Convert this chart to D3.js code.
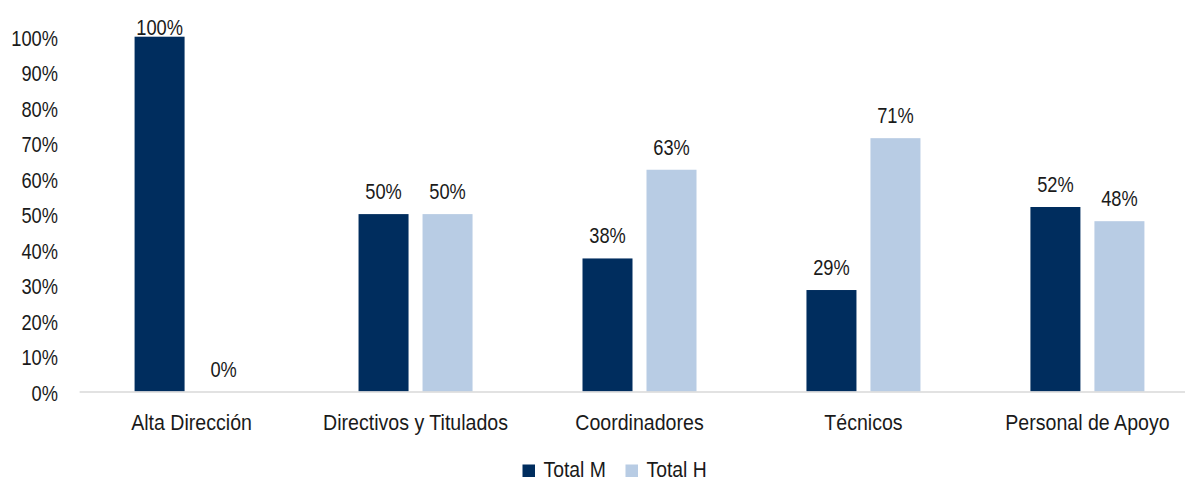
<!DOCTYPE html>
<html>
<head>
<meta charset="utf-8">
<script src="https://cdn.jsdelivr.net/npm/d3@7"></script>
<style>
  html, body { margin: 0; padding: 0; background: #ffffff; }
  svg { display: block; }
  text { font-family: "Liberation Sans", Arial, sans-serif; fill: #1a1a1a; }
</style>
</head>
<body>
<svg id="chart" width="1185" height="481"></svg>
<script>
const categories = ["Alta Dirección", "Directivos y Titulados", "Coordinadores", "Técnicos", "Personal de Apoyo"];
const seriesNames = ["Total M", "Total H"];
const totalM = [1.00, 0.50, 0.375, 0.286, 0.52];
const totalH = [0.00, 0.50, 0.625, 0.714, 0.48];
const yTicks = [0, 0.1, 0.2, 0.3, 0.4, 0.5, 0.6, 0.7, 0.8, 0.9, 1.0];
const colors = ["#002D5E", "#B8CCE4"];

(function () {
const FS = 22, SX_NUM = 0.83, SX_WORD = 0.89;
const svg = d3.select("#chart");
const plotLeft = 79.6, plotRight = 1199.4, plotTop = 36.7, plotBottom = 391.5;

const x0 = d3.scaleBand().domain(categories).range([plotLeft, plotRight]).paddingInner(0).paddingOuter(0);
const groupW = 114;
const x1 = d3.scaleBand().domain(seriesNames)
  .range([(x0.bandwidth() - groupW) / 2, (x0.bandwidth() + groupW) / 2])
  .paddingInner(0.21875).paddingOuter(0);
const y = d3.scaleLinear().domain([0, 1]).range([plotBottom, plotTop]);
const pct = d3.format(".0%");

function txt(g, x, yy, s, anchor, sx, fs) {
  return g.append("text")
    .attr("transform", `translate(${x},${yy}) scale(${sx},1)`)
    .attr("text-anchor", anchor)
    .style("font-size", (fs || FS) + "px")
    .text(s);
}

// Y axis labels (no line, no ticks)
const yAxis = d3.axisLeft(y).tickValues(yTicks).tickFormat(d3.format(".0%")).tickSize(0);
const gy = svg.append("g").attr("transform", "translate(58,0)").call(yAxis);
gy.select(".domain").remove();
gy.selectAll(".tick text").each(function () {
  const t = d3.select(this);
  const s = t.text();
  const p = this.parentNode;
  t.remove();
  txt(d3.select(p), 0, 8.5, s, "end", SX_NUM);
});

// Bars
const data = categories.map((c, i) => ({ cat: c, vals: [totalM[i], totalH[i]] }));
const groups = svg.append("g").selectAll("g").data(data).join("g")
  .attr("transform", d => `translate(${x0(d.cat)},0)`);

groups.selectAll("rect").data(d => d.vals.map((v, j) => ({ s: seriesNames[j], v, j })))
  .join("rect")
  .attr("x", d => x1(d.s))
  .attr("width", x1.bandwidth())
  .attr("y", d => y(d.v))
  .attr("height", d => plotBottom - y(d.v))
  .attr("fill", d => colors[d.j]);

// Value labels
groups.each(function (d) {
  const g = d3.select(this);
  d.vals.forEach((v, j) => {
    const by = Math.max(y(v) - 15, 35);
    txt(g, x1(seriesNames[j]) + x1.bandwidth() / 2, by, pct(v), "middle", SX_NUM);
  });
});

// X axis line
svg.append("line")
  .attr("x1", plotLeft).attr("x2", plotRight)
  .attr("y1", plotBottom + 0.5).attr("y2", plotBottom + 0.5)
  .attr("stroke", "#D9D9D9").attr("stroke-width", 1.5);

// Category labels
const xAxis = d3.axisBottom(x0).tickSize(0);
const gx = svg.append("g").attr("transform", `translate(0,${plotBottom})`).call(xAxis);
gx.select(".domain").remove();
gx.selectAll(".tick text").each(function () {
  const t = d3.select(this);
  const s = t.text();
  const p = this.parentNode;
  t.remove();
  txt(d3.select(p), 0, 38.5, s, "middle", SX_WORD);
});

// Legend
const legendX = [522.5, 625.5];
const lg = svg.append("g");
seriesNames.forEach((s, j) => {
  lg.append("rect").attr("x", legendX[j]).attr("y", 464.5).attr("width", 12.5).attr("height", 12.5).attr("fill", colors[j]);
  txt(lg, legendX[j] + 21, 476.5, s, "start", 0.9, 21.5);
});
})();
</script>
</body>
</html>
